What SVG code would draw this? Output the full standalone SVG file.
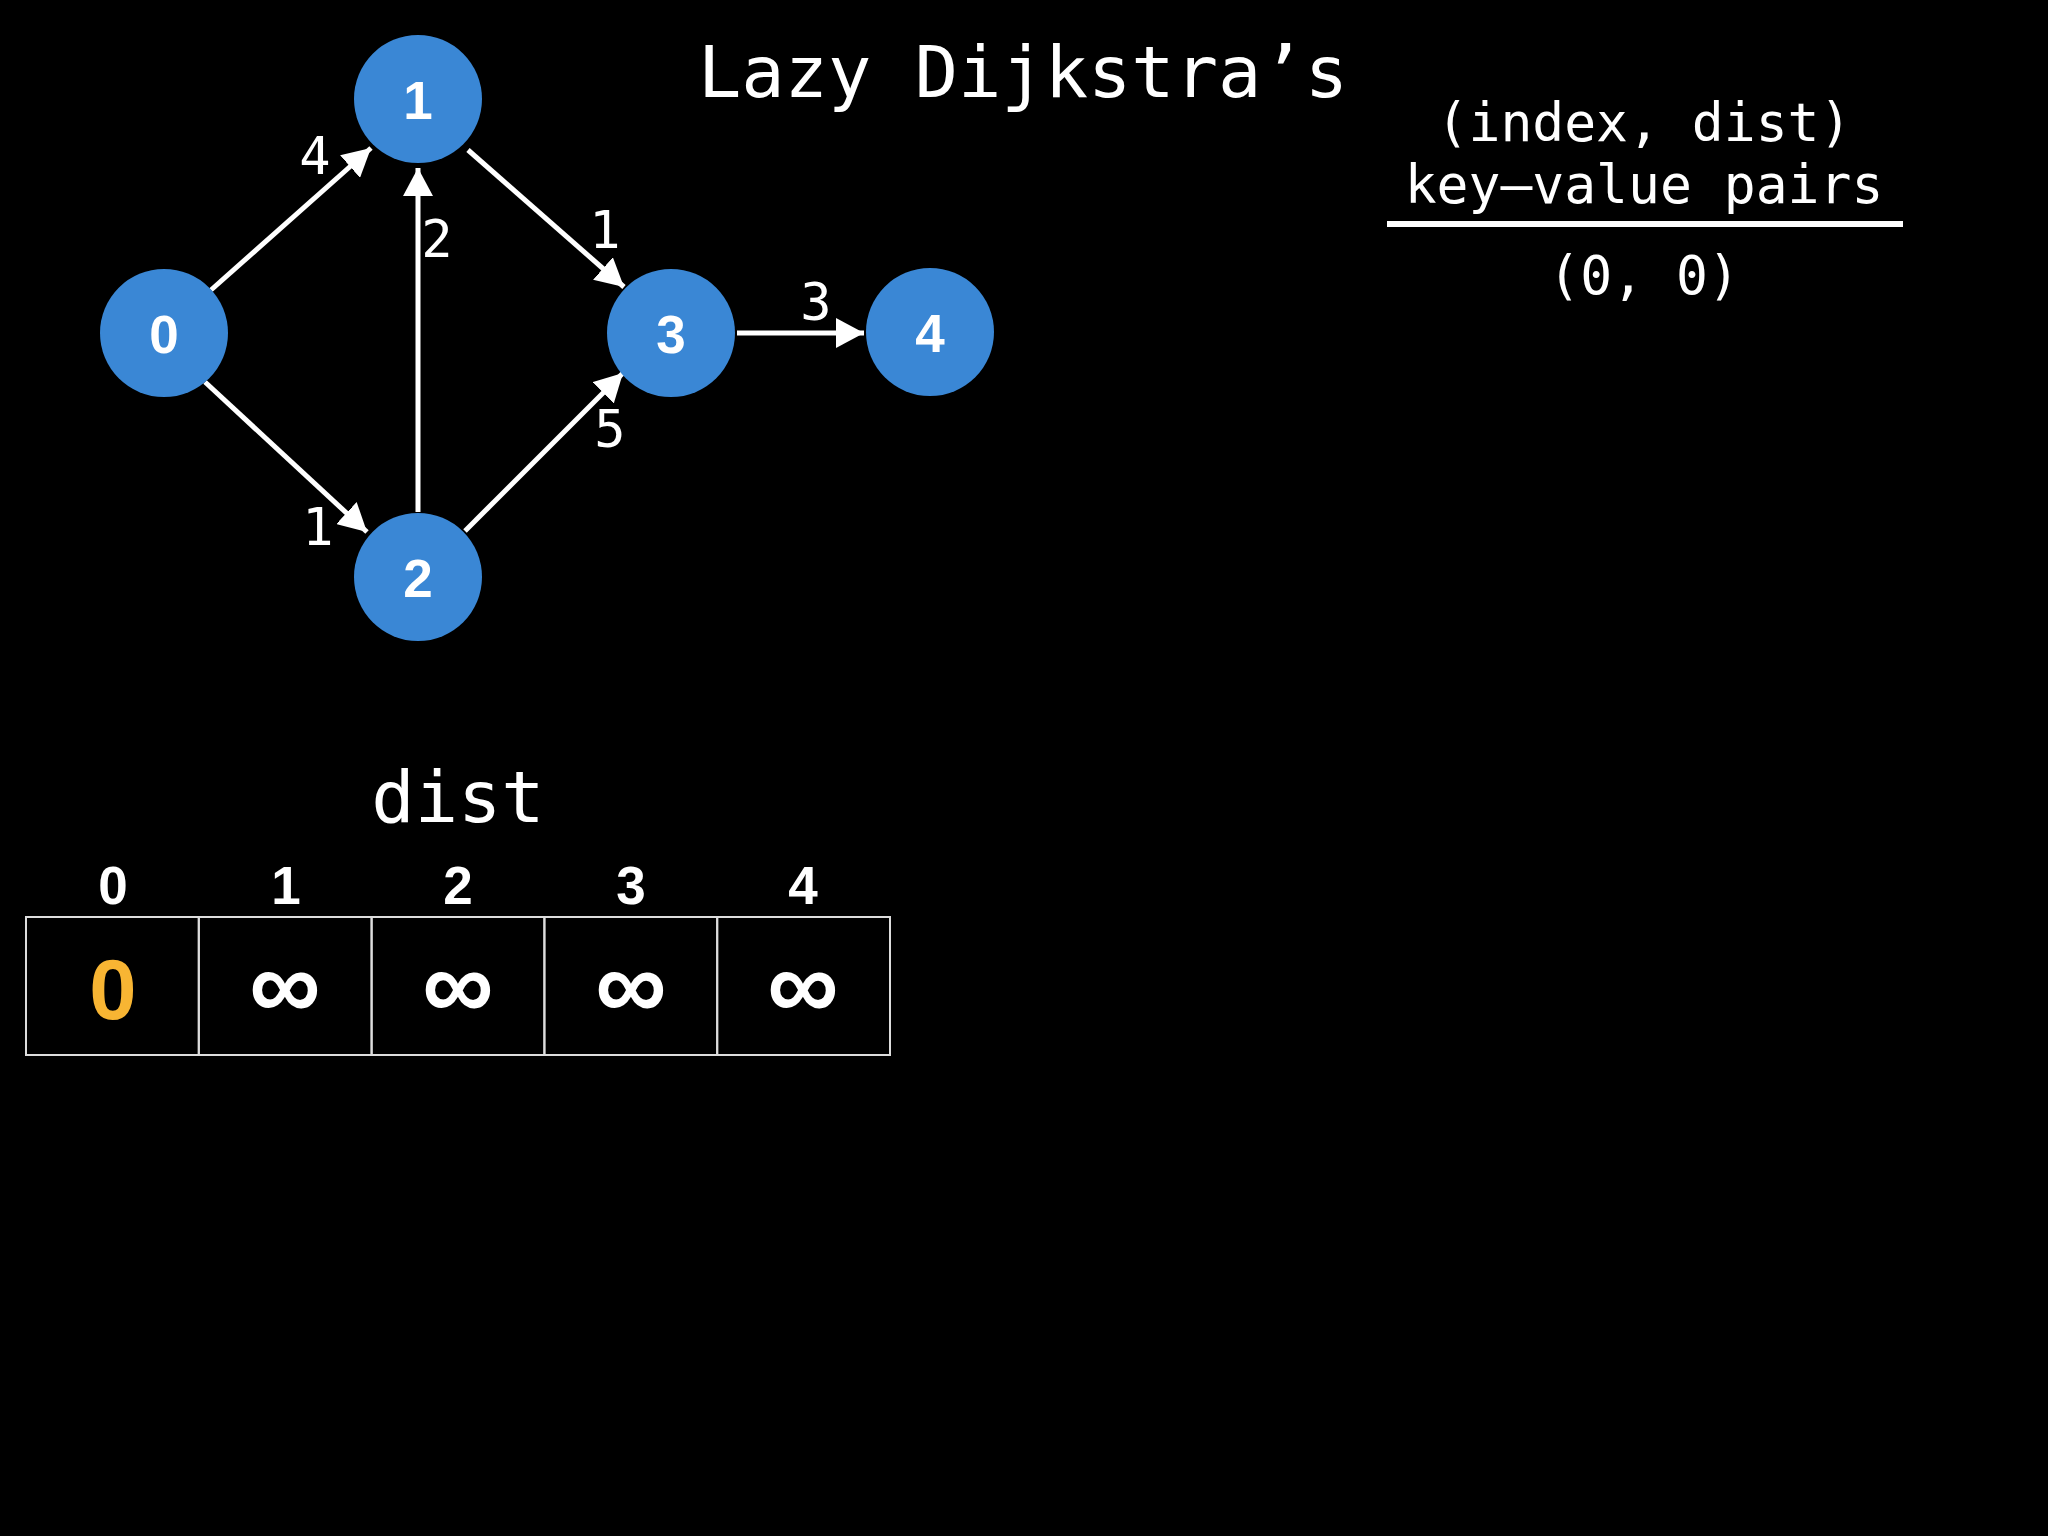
<svg xmlns="http://www.w3.org/2000/svg" width="2048" height="1536" viewBox="0 0 2048 1536">
<style>
.mono{font-family:"DejaVu Sans Mono","Liberation Mono",monospace;fill:#fff}
.node circle{fill:#3a87d5}
.node text{font-family:"Liberation Sans",Arial,sans-serif;font-weight:bold;font-size:53px;fill:#fff;text-anchor:middle}
.edge{stroke:#fff;stroke-width:5;fill:none}
.elabel{font-family:"DejaVu Sans Mono","Liberation Mono",monospace;font-size:52px;fill:#fff;text-anchor:middle}
.idx{font-family:"Liberation Sans",Arial,sans-serif;font-weight:bold;font-size:53px;fill:#fff;text-anchor:middle}
.cell{fill:none;stroke:#ddd;stroke-width:2}
.inf{font-family:"Liberation Sans",Arial,sans-serif;font-weight:bold;font-size:100px;fill:#fff;text-anchor:middle}
</style>
<defs>
<marker id="ah" markerWidth="28" markerHeight="30" refX="28" refY="15" orient="auto" markerUnits="userSpaceOnUse">
<path d="M0,0 L28,15 L0,30 Z" fill="#fff"/>
</marker>
</defs>
<rect width="2048" height="1536" fill="#000"/>
<text class="mono" x="1023" y="97" font-size="72" text-anchor="middle">Lazy Dijkstra’s</text>
<g id="pq">
<text class="mono" x="1644" y="141" font-size="53" text-anchor="middle">(index, dist)</text>
<text class="mono" x="1644" y="203" font-size="53" text-anchor="middle">key–value pairs</text>
<line x1="1387" y1="224" x2="1903" y2="224" stroke="#fff" stroke-width="6"/>
<text class="mono" x="1644" y="294" font-size="53" text-anchor="middle">(0, 0)</text>
</g>
<g id="connectors">
<line class="edge" x1="211" y1="290" x2="371" y2="148" marker-end="url(#ah)"/>
<line class="edge" x1="418" y1="512" x2="418" y2="168" marker-end="url(#ah)"/>
<line class="edge" x1="468" y1="150" x2="624" y2="287" marker-end="url(#ah)"/>
<line class="edge" x1="205" y1="382" x2="367" y2="532" marker-end="url(#ah)"/>
<line class="edge" x1="465" y1="531" x2="623" y2="373" marker-end="url(#ah)"/>
<line class="edge" x1="737" y1="333" x2="864" y2="333" marker-end="url(#ah)"/>
<text class="elabel" x="315" y="174">4</text>
<text class="elabel" x="437" y="257">2</text>
<text class="elabel" x="605" y="248">1</text>
<text class="elabel" x="318" y="545">1</text>
<text class="elabel" x="610" y="447">5</text>
<text class="elabel" x="816" y="320">3</text>
</g>
<g id="node0" class="node"><circle cx="164" cy="333" r="64"/><text x="164" y="353">0</text></g>
<g id="node1" class="node"><circle cx="418" cy="99" r="64"/><text x="418" y="119">1</text></g>
<g id="node2" class="node"><circle cx="418" cy="577" r="64"/><text x="418" y="597">2</text></g>
<g id="node3" class="node"><circle cx="671" cy="333" r="64"/><text x="671" y="353">3</text></g>
<g id="node4" class="node"><circle cx="930" cy="332" r="64"/><text x="930" y="352">4</text></g>
<g id="dist">
<text class="mono" x="458" y="822" font-size="72" text-anchor="middle">dist</text>
<text class="idx" x="113" y="904">0</text>
<text class="idx" x="286" y="904">1</text>
<text class="idx" x="458" y="904">2</text>
<text class="idx" x="631" y="904">3</text>
<text class="idx" x="803" y="904">4</text>
<rect class="cell" x="26" y="917" width="172.8" height="138"/>
<rect class="cell" x="198.8" y="917" width="172.8" height="138"/>
<rect class="cell" x="371.6" y="917" width="172.8" height="138"/>
<rect class="cell" x="544.4" y="917" width="172.8" height="138"/>
<rect class="cell" x="717.2" y="917" width="172.8" height="138"/>
<text x="113" y="1019" font-family="Liberation Sans,Arial,sans-serif" font-weight="bold" font-size="85" fill="#f8b533" text-anchor="middle">0</text>
<text class="inf" x="285" y="1019">∞</text>
<text class="inf" x="458" y="1019">∞</text>
<text class="inf" x="631" y="1019">∞</text>
<text class="inf" x="803" y="1019">∞</text>
</g>
</svg>
